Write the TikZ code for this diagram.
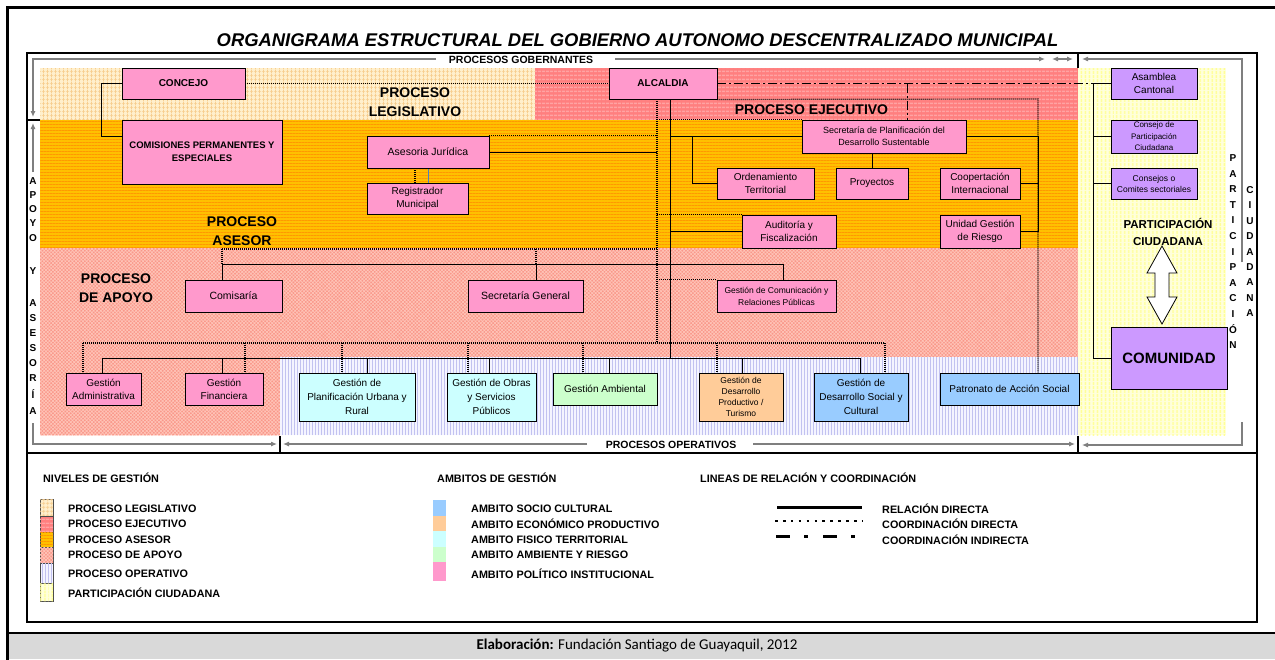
\documentclass[tikz,border=0pt]{standalone}
\usepackage{fontspec}
\setmainfont{Liberation Sans}
\newfontfamily\calibfont{Carlito}
\usetikzlibrary{patterns.meta,arrows.meta}
\newcommand\fsz[2]{\fontsize{#1}{#2}\selectfont}
\pgfdeclarelayer{back}
\pgfdeclarelayer{mid}
\pgfsetlayers{back,mid,main}
\definecolor{pinkbox}{HTML}{FF99CC}
\definecolor{purplebox}{HTML}{CC99FF}
\definecolor{cyanbox}{HTML}{CCFFFF}
\definecolor{greenbox}{HTML}{CCFFCC}
\definecolor{orangebox}{HTML}{FFCC99}
\definecolor{bluebox}{HTML}{99CCFF}
\definecolor{legbase}{HTML}{FFEFCC}
\definecolor{legline}{HTML}{F7CE90}
\definecolor{ejebase}{HTML}{FF7F7F}
\definecolor{ejeline}{HTML}{FFA3A3}
\definecolor{asebase}{HTML}{FFC000}
\definecolor{aseline}{HTML}{FF9900}
\definecolor{apobase}{HTML}{F9988A}
\definecolor{apoline}{HTML}{FFC4B8}
\definecolor{opebase}{HTML}{F4F4FF}
\definecolor{opeline}{HTML}{C2C2F0}
\definecolor{parbase}{HTML}{FFFFDC}
\definecolor{parline}{HTML}{FFFF96}
\definecolor{footgray}{HTML}{D9D9D9}
\definecolor{brkgray}{HTML}{7F7F7F}
\definecolor{regblue}{HTML}{4F81BD}
\begin{document}
\begin{tikzpicture}[x=1pt,y=-1pt,
  box/.style={draw=black, line width=0.9pt, fill=pinkbox, inner sep=1pt, align=center, font=\fsz{10}{13}},
  rel/.style={draw=black, line width=1pt},
  coord/.style={draw=black, line width=1.2pt, dash pattern=on 1pt off 1pt},
  indir/.style={draw=black, line width=0.9pt, dash pattern=on 9pt off 3pt on 2pt off 3pt},
  brk/.style={draw=brkgray, line width=1.1pt},
  tip/.style={-{Latex[length=6pt,width=5pt]}},
  bandlabel/.style={font=\bfseries\fsz{14}{19}, align=center, inner sep=0pt},
  vlet/.style={font=\bfseries\fsz{10}{10}, inner sep=0pt},
  leg/.style={font=\bfseries\fsz{10.8}{10.8}, anchor=west, inner sep=0pt},
  swatch/.style={draw=black!70, line width=0.6pt},
  legis/.style={fill=legbase, postaction={pattern={Hatch[angle=0,distance=4pt,line width=0.9pt]}, pattern color=legline}},
  ejec/.style={fill=ejebase, postaction={pattern={Lines[angle=0,distance=4pt,line width=1.6pt]}, pattern color=ejeline}},
  ases/.style={fill=asebase, postaction={pattern={Lines[angle=0,distance=3pt,line width=1pt]}, pattern color=aseline}},
  apoy/.style={fill=apobase, postaction={pattern={Hatch[angle=45,distance=2.5pt,line width=0.7pt]}, pattern color=apoline}},
  oper/.style={fill=opebase, postaction={pattern={Lines[angle=90,distance=3pt,line width=1pt]}, pattern color=opeline}},
  part/.style={fill=parbase, postaction={pattern={Lines[angle=90,distance=4pt,line width=1.8pt]}, pattern color=parline}},
]
\useasboundingbox (0,0) rectangle (1275,659);
\begin{pgfonlayer}{back}
\fill[white] (0,0) rectangle (1275,659);
\path[legis] (40,68) rectangle (535,120);
\path[ejec] (535,68) rectangle (1078,120);
\path[ases] (40,120) rectangle (1078,248);
\path[apoy] (40,248) rectangle (1078,357);
\path[apoy] (40,357) rectangle (280,435);
\path[oper] (280,357) rectangle (1078,435);
\path[part] (1078,68) rectangle (1226,435);
\end{pgfonlayer}

% frames
\fill[footgray] (7,634) rectangle (1276,659);
\draw[line width=3pt] (7,660) -- (7,7) -- (1276,7);
\draw[line width=2.5pt] (7,633) -- (1276,633);
\draw[line width=2pt] (27,53) rectangle (1257,622);
\draw[line width=2pt] (27,453) -- (1257,453);
\draw[line width=2pt] (1078,53) -- (1078,68);
\draw[line width=2pt] (27,120) -- (40,120);
\draw[line width=1.5pt] (280,436) -- (280,453);
\draw[line width=1.5pt] (1078,436) -- (1078,453);

% title
\node[font=\bfseries\itshape\fsz{18.4}{18.4}, inner sep=0pt] (title) at (637.5,40) {ORGANIGRAMA ESTRUCTURAL DEL GOBIERNO AUTONOMO DESCENTRALIZADO MUNICIPAL};

% brackets
\node[font=\bfseries\fsz{10.5}{10.5}, inner sep=0pt] (gob) at (521,60) {PROCESOS GOBERNANTES};
\node[font=\bfseries\fsz{10.5}{10.5}, inner sep=0pt] (opl) at (671,445) {PROCESOS OPERATIVOS};
\coordinate (gbl) at (436,59);
\coordinate (gbr) at (615,59);
\coordinate (opa) at (587,444);
\coordinate (opb) at (753,444);
\draw[brk,tip] (gbl) -- (33,59) -- (33,117);
\draw[brk,tip] (gbr) -- (1045,59);
\draw[brk,{Latex[length=6pt,width=5pt]}-{Latex[length=6pt,width=5pt]}] (1052,59) -- (1073,59);
\draw[brk,tip] (1242,262) -- (1242,59) -- (1082,59);
\draw[brk,tip] (33,172) -- (33,123);
\draw[brk,tip] (33,423) -- (33,444) -- (277,444);
\draw[brk,tip] (opa) -- (283,444);
\draw[brk,tip] (opb) -- (1075,444);
\draw[brk,tip] (1242,422) -- (1242,445) -- (1082,445);

% band labels
\node[bandlabel] (lbleg) at (415,102) {PROCESO\\LEGISLATIVO};
\node[bandlabel] (lbeje) at (811.5,110) {PROCESO EJECUTIVO};
\node[bandlabel] (lbase) at (242,231) {PROCESO\\ASESOR};
\node[bandlabel] (lbapo) at (116,288) {PROCESO\\DE APOYO};
\node[font=\bfseries\fsz{11.5}{17}, align=center, inner sep=0pt] (lbpar) at (1168,232) {PARTICIPACIÓN\\CIUDADANA};

% vertical letters
\foreach \l/\yy [count=\i] in {A/181,P/195,O/209,Y/223,O/238,Y/271,A/303,S/318,E/333,S/348,O/363,R/378,Í/394,A/411}{
  \node[vlet] (ay\i) at (33,\yy) {\l};
}
\foreach \l [count=\i] in {P,A,R,T,I,C,I,P,A,C,I,Ó,N}{
  \node[vlet] (pp\i) at (1233,{158+15.6*(\i-1)}) {\l};
}
\foreach \l [count=\i] in {C,I,U,D,A,D,A,N,A}{
  \node[vlet] (pc\i) at (1250,{190+15.4*(\i-1)}) {\l};
}

% nodes
\node[box, minimum width=123pt, minimum height=31pt, font=\bfseries\fsz{10}{12}] (concejo) at (183.5,83.5) {CONCEJO};
\node[box, minimum width=160pt, minimum height=64pt, font=\bfseries\fsz{9.5}{13}] (comisiones) at (202,152) {COMISIONES PERMANENTES Y\\ESPECIALES};
\node[box, minimum width=108pt, minimum height=31pt, font=\bfseries\fsz{10}{12}] (alcaldia) at (663,83.5) {ALCALDIA};
\node[box, minimum width=122pt, minimum height=32pt, font=\fsz{10.5}{13}] (asesoria) at (428,152) {Asesoria Jurídica};
\node[box, minimum width=101pt, minimum height=31pt] (registrador) at (417.5,198.5) {Registrador\\Municipal};
\node[box, minimum width=164pt, minimum height=33pt, font=\fsz{9}{12}] (secplan) at (884,136.5) {Secretaría de Planificación del\\Desarrollo Sustentable};
\node[box, minimum width=97pt, minimum height=31pt] (ordenamiento) at (765.5,183.5) {Ordenamiento\\Territorial};
\node[box, minimum width=72pt, minimum height=31pt] (proyectos) at (872,183.5) {Proyectos};
\node[box, minimum width=80pt, minimum height=31pt] (cooperacion) at (980,183.5) {Coopertación\\Internacional};
\node[box, minimum width=94pt, minimum height=33pt] (auditoria) at (789,231.5) {Auditoría y\\Fiscalización};
\node[box, minimum width=80pt, minimum height=33pt] (unidad) at (980,231.5) {Unidad Gestión\\de Riesgo};
\node[box, minimum width=97pt, minimum height=32pt, font=\fsz{10.5}{13}] (comisaria) at (233.5,296) {Comisaría};
\node[box, minimum width=115pt, minimum height=32pt, font=\fsz{10.5}{13}] (secgeneral) at (525.5,296) {Secretaría General};
\node[box, minimum width=119pt, minimum height=32pt, font=\fsz{8.5}{12}] (comunicacion) at (776.5,296) {Gestión de Comunicación y\\Relaciones Públicas};
\node[box, minimum width=75pt, minimum height=32pt] (gadmin) at (103.5,389) {Gestión\\Administrativa};
\node[box, minimum width=78pt, minimum height=32pt] (gfin) at (224,389) {Gestión\\Financiera};
\node[box, fill=cyanbox, minimum width=116pt, minimum height=48pt, font=\fsz{10}{14}] (gplan) at (357,397) {Gestión de\\Planificación Urbana y\\Rural};
\node[box, fill=cyanbox, minimum width=89pt, minimum height=48pt, font=\fsz{10}{14}] (gobras) at (491.5,397) {Gestión de Obras\\y Servicios\\Públicos};
\node[box, fill=greenbox, minimum width=104pt, minimum height=32pt] (gamb) at (605,389) {Gestión Ambiental};
\node[box, fill=orangebox, minimum width=84pt, minimum height=48pt, font=\fsz{8.5}{11}] (gprod) at (741,397) {Gestión de\\Desarrollo\\Productivo /\\Turismo};
\node[box, fill=bluebox, minimum width=94pt, minimum height=48pt, font=\fsz{10}{14}] (gsocial) at (861,397) {Gestión de\\Desarrollo Social y\\Cultural};
\node[box, fill=bluebox, minimum width=139pt, minimum height=32pt] (patronato) at (1009.5,389) {Patronato de Acción Social};
\node[box, fill=purplebox, minimum width=86pt, minimum height=31pt] (asamblea) at (1154,83.5) {Asamblea\\Cantonal};
\node[box, fill=purplebox, minimum width=86pt, minimum height=33pt, font=\fsz{8}{11.5}] (consejo) at (1154,136.5) {Consejo de\\Participación\\Ciudadana};
\node[box, fill=purplebox, minimum width=86pt, minimum height=31pt, font=\fsz{8.5}{11}] (consejos) at (1154,183.5) {Consejos o\\Comites sectoriales};
\node[box, fill=purplebox, minimum width=116pt, minimum height=62pt, font=\bfseries\fsz{15}{18}] (comunidad) at (1169,358) {COMUNIDAD};

% double arrow
\draw[fill=white, line width=0.8pt] (1162,246) -- (1177,273) -- (1169,273) -- (1169,297) -- (1177,297) -- (1162,324) -- (1147,297) -- (1155,297) -- (1155,273) -- (1147,273) -- cycle;

% connectors
\begin{pgfonlayer}{mid}
\coordinate (dl) at (657,99);
\coordinate (dlb) at (657,343);
\coordinate (dr) at (1038,99);
\coordinate (t0) at (670,99);
\coordinate (t1) at (670,358);
\coordinate (pv) at (1093,83.5);
\coordinate (dd) at (907,83.5);
\coordinate (ob) at (692,136.5);
\coordinate (rg) at (415,168);
\coordinate (ba1) at (222,264);
\coordinate (ba2) at (536,264);
\coordinate (ba3) at (783,264);
\coordinate (da1) at (222,249);

\draw[rel] (concejo.west) -- ++(-20,0) |- ([yshift=16pt]comisiones.west);
\draw[coord] (concejo.east) -- (alcaldia.west);
\draw[indir] (alcaldia.east) -- (pv);
\draw[indir] (dd) -- (dd |- secplan.north);

% dotted coordination frame
\draw[coord] (alcaldia.south east) -- (dr) -- (dr |- patronato.north);
\draw[coord] (dl) -- (dlb);
\draw[coord] (dl |- secplan.north west) -- (secplan.north west);
\draw[coord] (asesoria.north east) -- (asesoria.north east -| dl);
\draw[coord] (auditoria.north west -| dl) -- (auditoria.north west);
\draw[coord] (comunicacion.north west -| dl) -- (comunicacion.north west);
\draw[coord] (da1) -- (da1 -| dl);
\draw[coord] (da1) -- (ba1);
\draw[coord] (da1 -| ba2) -- (ba2);
\draw[coord] (rg) -- (rg |- registrador.north);
\draw[regblue, line width=0.7pt] (asesoria.south) -- (asesoria.south |- registrador.north);

% trunk
\draw[rel] (alcaldia.south -| t0) -- (t1);
\draw[rel] (asesoria.east) -- (asesoria.east -| dl);
\draw[rel] (secplan.west -| t0) -- (secplan.west);
\draw[rel] (ob) |- (ordenamiento.west);
\draw[rel] (proyectos.north) -- (proyectos.north |- secplan.south);
\draw[rel] (secplan.east) -- (secplan.east -| dr) -- (unidad.east -| dr) -- (unidad.east);
\draw[rel] (cooperacion.east) -- (cooperacion.east -| dr);
\draw[rel] (auditoria.west -| t0) -- (auditoria.west);
\draw[rel] (ba1) -- (ba3);
\draw[rel] (ba1) -- (ba1 |- comisaria.north);
\draw[rel] (ba2) -- (ba2 |- secgeneral.north);
\draw[rel] (ba3) -- (ba3 |- comunicacion.north);

% operative buses
\foreach \n/\xx in {gadmin/83, gfin/245, gplan/342, gobras/468, gamb/583, gprod/717, gsocial/885}{
  \coordinate (d\n) at (\xx,343);
  \draw[coord] (d\n) -- (d\n |- \n.north);
}
\draw[coord] (dgadmin) -- (dgsocial);
\foreach \n/\xx in {gadmin/102, gfin/222, gplan/367, gobras/489, gamb/609, gprod/742, gsocial/860}{
  \coordinate (s\n) at (\xx,358);
  \draw[rel] (s\n) -- (s\n |- \n.north);
}
\draw[rel] (sgadmin) -- (sgsocial);

% participation
\draw[rel] (pv) -- (pv |- comunidad.west) -- (comunidad.west);
\draw[rel] (pv) -- (asamblea.west);
\draw[rel] (pv |- consejo.west) -- (consejo.west);
\draw[rel] (pv |- consejos.west) -- (consejos.west);
\end{pgfonlayer}

% legend
\node[leg] (lh1) at (43,478) {NIVELES DE GESTIÓN};
\node[leg] (lh2) at (437,478) {AMBITOS DE GESTIÓN};
\node[leg] (lh3) at (700,478) {LINEAS DE RELACIÓN Y COORDINACIÓN};

\path[legis, swatch] (40,499) rectangle (53,516);
\path[ejec, swatch] (40,516) rectangle (53,532);
\path[ases, swatch] (40,532) rectangle (53,547);
\path[apoy, swatch] (40,547) rectangle (53,563);
\path[oper, swatch] (40,563) rectangle (53,583);
\path[part, swatch] (40,583) rectangle (53,601);
\node[leg] (n1) at (68,509) {PROCESO LEGISLATIVO};
\node[leg] (n2) at (68,524) {PROCESO EJECUTIVO};
\node[leg] (n3) at (68,540) {PROCESO ASESOR};
\node[leg] (n4) at (68,555) {PROCESO DE APOYO};
\node[leg] (n5) at (68,574) {PROCESO OPERATIVO};
\node[leg] (n6) at (68,593) {PARTICIPACIÓN CIUDADANA};

\fill[bluebox] (433,500) rectangle (446,516);
\fill[orangebox] (433,516) rectangle (446,531);
\fill[cyanbox] (433,531) rectangle (446,547);
\fill[greenbox] (433,547) rectangle (446,562);
\fill[pinkbox] (433,562) rectangle (446,581);
\node[leg] (a1) at (471,509) {AMBITO SOCIO CULTURAL};
\node[leg] (a2) at (471,524) {AMBITO ECONÓMICO PRODUCTIVO};
\node[leg] (a3) at (471,540) {AMBITO FISICO TERRITORIAL};
\node[leg] (a4) at (471,555) {AMBITO AMBIENTE Y RIESGO};
\node[leg] (a5) at (471,574) {AMBITO POLÍTICO INSTITUCIONAL};

\draw[line width=3pt] (777,507) -- (862,507);
\draw[line width=2.6pt, dash pattern=on 2.6pt off 5.3pt] (775,521) -- (862,521);
\draw[line width=3pt, dash pattern=on 14pt off 14pt on 4pt off 15pt] (776,536) -- (862,536);
\node[leg] (l1) at (882,509) {RELACIÓN DIRECTA};
\node[leg] (l2) at (882,524) {COORDINACIÓN DIRECTA};
\node[leg] (l3) at (882,540) {COORDINACIÓN INDIRECTA};

% footer
\node[font=\calibfont\fsz{15}{15}, inner sep=0pt] (foot) at (637,646) {\textbf{Elaboración:} Fundación Santiago de Guayaquil, 2012};
\end{tikzpicture}
\end{document}
